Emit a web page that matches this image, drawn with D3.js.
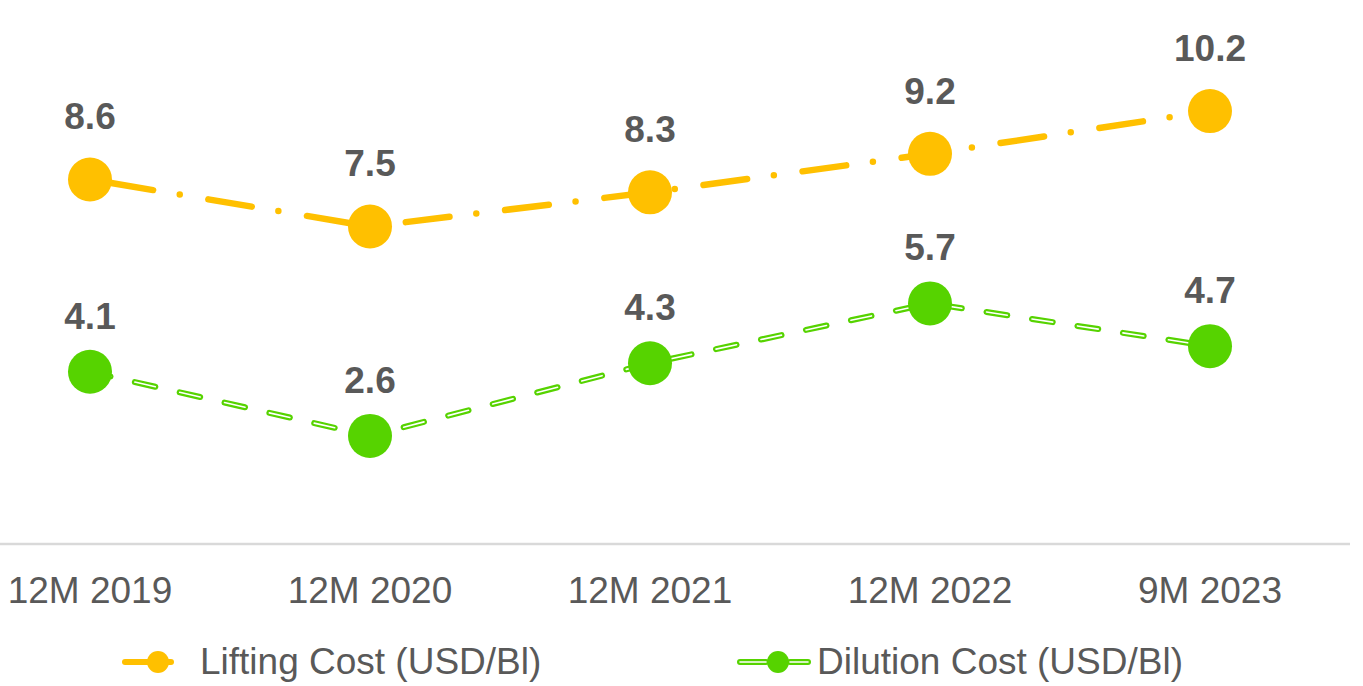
<!DOCTYPE html>
<html>
<head>
<meta charset="utf-8">
<script src="https://cdn.jsdelivr.net/npm/d3@7"></script>
<style>
  body { margin: 0; background: #fff; }
  text { font-family: "Liberation Sans", Arial, sans-serif; }
</style>
</head>
<body>
<div id="chart"></div>
<script>
// data
var periods = ["12M 2019", "12M 2020", "12M 2021", "12M 2022", "9M 2023"];
var liftingCost = [8.6, 7.5, 8.3, 9.2, 10.2];
var dilutionCost = [4.1, 2.6, 4.3, 5.7, 4.7];
var seriesNames = ["Lifting Cost (USD/Bl)", "Dilution Cost (USD/Bl)"];

var width = 1363, height = 686;

var svg = d3.select("#chart")
  .append("svg")
    .attr("width", width)
    .attr("height", height);

// x: bands of 280px, the first one partly off the left edge
var x = d3.scaleBand()
    .domain(periods)
    .range([-50, 1350]);

var y = d3.scaleLinear()
    .domain([0, 12.8])
    .range([547, 0]);

// baseline
svg.append("line")
  .attr("x1", 0).attr("x2", 1350)
  .attr("y1", 544).attr("y2", 544)
  .attr("stroke", "#d9d9d9")
  .attr("stroke-width", 2.5);

// category labels
svg.append("g")
  .selectAll("text")
  .data(periods)
  .enter().append("text")
    .attr("x", function(d) { return x(d) + x.bandwidth() / 2; })
    .attr("y", 603)
    .attr("text-anchor", "middle")
    .attr("font-size", 37)
    .attr("fill", "#595959")
    .text(function(d) { return d; });

var line = d3.line()
  .x(function(d, i) { return x(periods[i]) + x.bandwidth() / 2; })
  .y(function(d) { return y(d); });

var yellow = "#FFC000", green = "#56D300";

// dilution cost: double-stroke dashed line
var dil = svg.append("g");
dil.append("path")
  .datum(dilutionCost)
  .attr("d", line)
  .attr("fill", "none")
  .attr("stroke", green)
  .attr("stroke-width", 6)
  .attr("stroke-linecap", "round")
  .attr("stroke-dasharray", "21 25");
dil.append("path")
  .datum(dilutionCost)
  .attr("d", line)
  .attr("fill", "none")
  .attr("stroke", "#fff")
  .attr("stroke-width", 1.6)
  .attr("stroke-linecap", "round")
  .attr("stroke-dasharray", "21 25");

// lifting cost: long dash - dot
svg.append("path")
  .datum(liftingCost)
  .attr("d", line)
  .attr("fill", "none")
  .attr("stroke", yellow)
  .attr("stroke-width", 6.5)
  .attr("stroke-linecap", "round")
  .attr("stroke-dasharray", "44 27 0 29")
  .attr("stroke-dashoffset", -20);

function drawPoints(values, color, labelDy) {
  var g = svg.append("g");
  g.selectAll("circle")
    .data(values)
    .enter().append("circle")
      .attr("cx", function(d, i) { return x(periods[i]) + x.bandwidth() / 2; })
      .attr("cy", function(d) { return y(d); })
      .attr("r", 22)
      .attr("fill", color);
  g.selectAll("text")
    .data(values)
    .enter().append("text")
      .attr("x", function(d, i) { return x(periods[i]) + x.bandwidth() / 2; })
      .attr("y", function(d) { return y(d) + labelDy; })
      .attr("text-anchor", "middle")
      .attr("font-size", 37)
      .attr("font-weight", "bold")
      .attr("fill", "#595959")
      .text(function(d) { return d.toFixed(1); });
}
drawPoints(dilutionCost, green, -43);
drawPoints(liftingCost, yellow, -50);

// legend
var legend = svg.append("g");
// lifting
legend.append("line")
  .attr("x1", 125).attr("x2", 171)
  .attr("y1", 662).attr("y2", 662)
  .attr("stroke", yellow).attr("stroke-width", 6)
  .attr("stroke-linecap", "round");
legend.append("circle")
  .attr("cx", 158).attr("cy", 662).attr("r", 11)
  .attr("fill", yellow);
legend.append("text")
  .attr("x", 200).attr("y", 674)
  .attr("font-size", 37).attr("fill", "#595959")
  .text(seriesNames[0]);
// dilution
[[740, 766], [790, 808]].forEach(function(seg) {
  legend.append("line")
    .attr("x1", seg[0]).attr("x2", seg[1])
    .attr("y1", 662).attr("y2", 662)
    .attr("stroke", green).attr("stroke-width", 6)
    .attr("stroke-linecap", "round");
  legend.append("line")
    .attr("x1", seg[0]).attr("x2", seg[1])
    .attr("y1", 662).attr("y2", 662)
    .attr("stroke", "#fff").attr("stroke-width", 1.6)
    .attr("stroke-linecap", "round");
});
legend.append("circle")
  .attr("cx", 778).attr("cy", 662).attr("r", 11)
  .attr("fill", green);
legend.append("text")
  .attr("x", 817).attr("y", 674)
  .attr("font-size", 37).attr("fill", "#595959")
  .text(seriesNames[1]);
</script>
</body>
</html>
